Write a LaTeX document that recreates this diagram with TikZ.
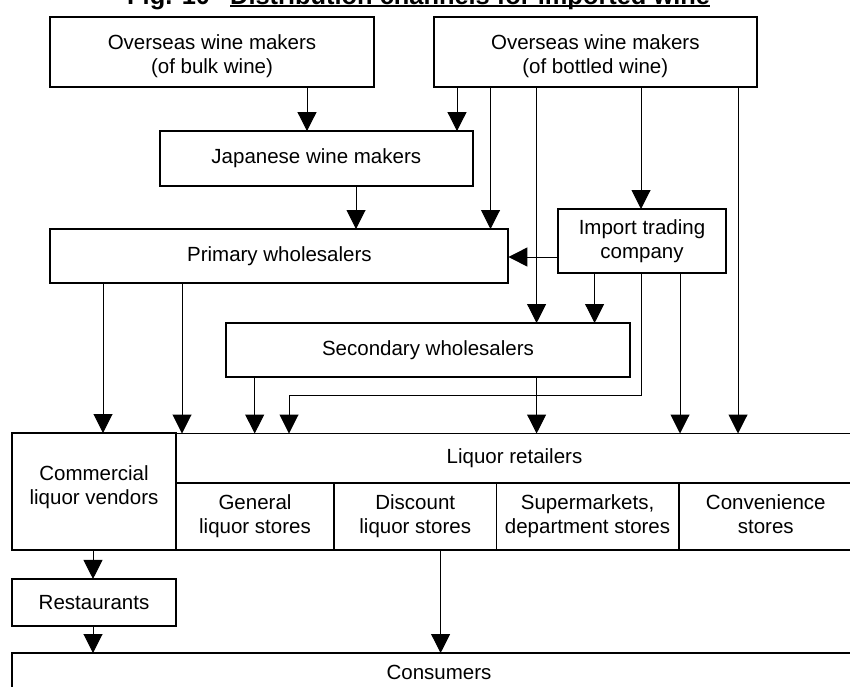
\documentclass[tikz,border=0pt]{standalone}
\usepackage{fontspec}
\setmainfont{Liberation Sans}
\usetikzlibrary{arrows.meta, positioning}

\begin{document}
\begin{tikzpicture}[x=1pt, y=-1pt,
  box/.style={draw, line width=1.9pt, inner sep=0pt, outer sep=0pt, align=center, font=\fontsize{20.5}{24}\selectfont},
  arr/.style={line width=1pt, -{Triangle[length=19pt, width=19pt]}}]
  \path[use as bounding box, clip] (0,0) rectangle (850,686);

  \node[anchor=base west, inner sep=0pt, font=\fontsize{25.4}{30}\selectfont\bfseries] (figno) at (127,4) {Fig. 10};
  \node[anchor=base west, inner sep=0pt, font=\fontsize{25.4}{30}\selectfont\bfseries] (title) at (230,4) {Distribution channels for imported wine\hspace{20pt}};
  \draw[line width=2.2pt] ([yshift=-2.2pt]title.base west) -- ([yshift=-2.2pt]title.base east);

  \node[box, minimum width=324pt, minimum height=70pt, text height=47pt] (bulk) at (212,52) {Overseas wine makers\\(of bulk wine)};
  \node[box, minimum width=323pt, minimum height=70pt, text height=47pt] (bottled) at (595.3,52) {Overseas wine makers\\(of bottled wine)};
  \node[box, minimum width=312.6pt, minimum height=54.7pt] (japan) at (316.3,158.4) {Japanese wine makers};
  \node[box, minimum width=458pt, minimum height=54pt] (primary) at (279.4,256) {Primary wholesalers};
  \node[box, minimum width=168pt, minimum height=64pt] (import) at (642,241) {Import trading\\company};
  \node[box, minimum width=404pt, minimum height=54pt] (secondary) at (428,350) {Secondary wholesalers};
  \node[box, minimum width=164pt, minimum height=117pt, text depth=12.3pt] (commercial) at (94,491.5) {Commercial\\liquor vendors};
  \node[box, minimum width=677pt, minimum height=49.5pt] (retail) at (514.5,458.25) {Liquor retailers};
  \node[box, minimum width=158pt, minimum height=67pt, anchor=north west] (general) at (retail.south west) {General\\liquor stores};
  \node[box, minimum width=162.5pt, minimum height=67pt, right=0pt of general] (discount) {Discount\\liquor stores};
  \node[box, minimum width=182.1pt, minimum height=67pt, right=0pt of discount] (super) {Supermarkets,\\department stores};
  \node[box, minimum width=174.4pt, minimum height=67pt, text depth=4.3pt, right=0pt of super] (conv) {Convenience\\stores};
  \node[box, minimum width=164pt, minimum height=46.7pt] (rest) at (94,602.3) {Restaurants};
  \node[box, minimum width=854pt, minimum height=38pt] (consumers) at (439,672) {Consumers};

  \draw[arr] (bulk.south -| 307,0) -- (japan.north -| 307,0);
  \draw[arr] (bottled.south -| 457,0) -- (japan.north -| 457,0);
  \draw[arr] (bottled.south -| 490.5,0) -- (primary.north -| 490.5,0);
  \draw[arr] (bottled.south -| 536.6,0) -- (secondary.north -| 536.6,0);
  \draw[arr] (bottled.south -| 641,0) -- (import.north -| 641,0);
  \draw[arr] (bottled.south -| 738,0) -- (retail.north -| 738,0);
  \draw[arr] (japan.south -| 356,0) -- (primary.north -| 356,0);
  \draw[arr] (import.west |- 0,257) -- (primary.east |- 0,257);
  \draw[arr] (import.south -| 594.6,0) -- (secondary.north -| 594.6,0);
  \draw[arr] (import.south -| 641,0) -- ++(0,122.7) -| (retail.north -| 289,0);
  \draw[arr] (import.south -| 680,0) -- (retail.north -| 680,0);
  \draw[arr] (primary.south -| 103,0) -- (commercial.north -| 103,0);
  \draw[arr] (primary.south -| 182,0) -- (retail.north -| 182,0);
  \draw[arr] (secondary.south -| 254.7,0) -- (retail.north -| 254.7,0);
  \draw[arr] (secondary.south -| 536.6,0) -- (retail.north -| 536.6,0);
  \draw[arr] (commercial.south -| 93,0) -- (rest.north -| 93,0);
  \draw[arr] (rest.south -| 93,0) -- (consumers.north -| 93,0);
  \draw[arr] (discount.south -| 440.6,0) -- (consumers.north -| 440.6,0);
\end{tikzpicture}
\end{document}
